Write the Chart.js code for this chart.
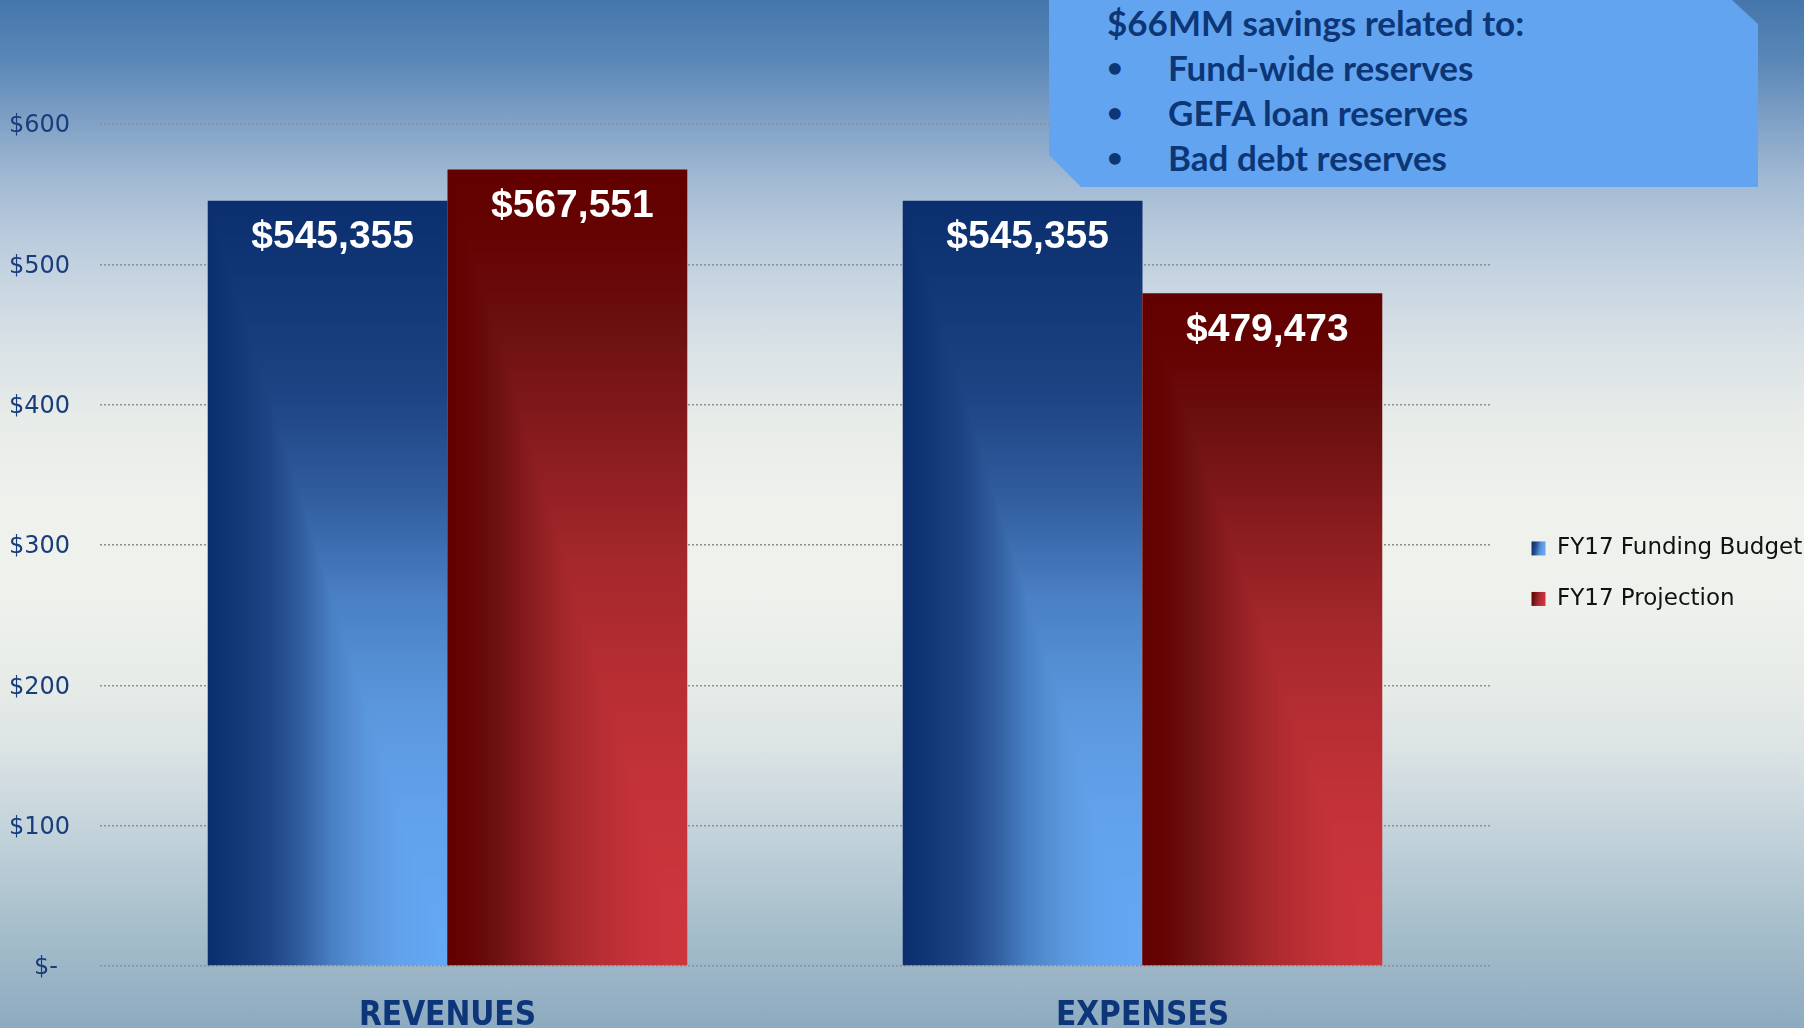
<!DOCTYPE html>
<html>
<head>
<meta charset="utf-8">
<script src="https://cdn.jsdelivr.net/npm/chart.js@4.4.1/dist/chart.umd.min.js"></script>
<style>
html, body { margin:0; padding:0; width:1804px; height:1028px; overflow:hidden; }
body {
  position:relative;
  background: linear-gradient(to bottom,
    #4576ab 0px, #5987b7 60px, #7c9ec4 115px, #9fb8d2 175px, #b7c9db 230px,
    #cad7e2 290px, #dae2e6 350px, #e8ece9 420px, #eef1ec 500px, #eef1ec 600px,
    #e6ebe8 690px, #dbe3e4 750px, #cbd8de 805px, #b9ccd6 865px, #a8c0cc 920px,
    #9bb5c6 975px, #8daac0 1028px);
}
#c { position:absolute; left:0; top:0; }
#callout {
  position:absolute; left:1049px; top:0; width:709px; height:187px; background:#63a4f1;
  clip-path: polygon(0 155px, 0 0, 683px 0, 709px 24px, 709px 187px, 32px 187px);
  z-index:2;
}
.ln { position:absolute; font-family: Lato, "Open Sans", sans-serif; font-weight:bold; font-size:35px;
  line-height:40px; color:#0c3675; white-space:nowrap; }
.ln.b { font-size:27px; }
</style>
</head>
<body>
<canvas id="c" width="1804" height="1028"></canvas>
<div id="callout"></div>
<script>
// ---- data ----
const categories = ['REVENUES', 'EXPENSES'];
const seriesNames = ['FY17 Funding Budget', 'FY17 Projection'];
const fundingBudget = [545355, 545355];   // $ thousands
const projection = [567551, 479473];      // $ thousands
const yTickLabels = ['$-\u2002', '$100', '$200', '$300', '$400', '$500', '$600'];
const calloutTitle = '$66MM savings related to:';
const calloutItems = ['Fund-wide reserves', 'GEFA loan reserves', 'Bad debt reserves'];

// ---- callout text ----
(function(){
  const box = document.getElementById('callout');
  const add = (txt, left, top, cls) => { const d = document.createElement('div'); d.className = 'ln' + (cls ? ' ' + cls : ''); d.textContent = txt; d.style.left = left+'px'; d.style.top = top+'px'; box.appendChild(d); };
  add(calloutTitle, 58, 2);
  calloutItems.forEach((t, i) => { add('\u2022', 58, 47 + i*45, 'b'); add(t, 119, 47 + i*45); });
})();

// ---- fills ----
const BLUE = [[0,[10,46,110]],[0.25,[29,67,131]],[0.38,[47,91,156]],[0.52,[74,128,196]],[0.66,[90,150,220]],[0.8,[98,162,236]],[1,[101,168,244]]];
const RED  = [[0,[98,0,0]],[0.1,[102,4,4]],[0.2,[108,16,16]],[0.35,[138,28,31]],[0.5,[165,40,44]],[0.65,[184,46,51]],[0.8,[198,51,58]],[1,[207,54,62]]];
function ramp(stops, t){
  t = Math.max(0, Math.min(1, t));
  for (let k=1; k<stops.length; k++){
    if (t <= stops[k][0]) {
      const a = stops[k-1], b = stops[k], f = (t-a[0])/(b[0]-a[0]);
      return [0,1,2].map(j => a[1][j] + (b[1][j]-a[1][j])*f);
    }
  }
  return stops[stops.length-1][1];
}
function paintRect(img, x, y, w, h, stops, mode){
  const W = img.width, H = img.height;
  const x0 = Math.floor(x), x1 = Math.ceil(x+w), y0 = Math.floor(y), y1 = Math.ceil(y+h);
  for (let py=y0; py<y1; py++) for (let px=x0; px<x1; px++){
    if (px<0 || py<0 || px>=W || py>=H) continue;
    const u = (px+0.5-x)/w, v = (py+0.5-y)/h;
    const t = mode === 'legend' ? u*0.85 + v*0.15 : Math.min(u, v);
    const c = ramp(stops, t);
    const o = (py*W+px)*4;
    img.data[o]=c[0]; img.data[o+1]=c[1]; img.data[o+2]=c[2]; img.data[o+3]=255;
  }
}
let barPattern = null;
function buildPattern(chart){
  const W = chart.width, H = chart.height;
  const off = document.createElement('canvas'); off.width = W; off.height = H;
  const octx = off.getContext('2d');
  const img = octx.createImageData(W, H);
  const lab = chart.options.plugins.legend.labels;
  const fs = lab.font.size;
  chart.data.datasets.forEach((ds, di) => {
    const stops = di === 0 ? BLUE : RED;
    chart.getDatasetMeta(di).data.forEach(el => {
      const p = el.getProps(['x','y','base','width'], true);
      paintRect(img, p.x - p.width/2, p.y, p.width, p.base - p.y, stops, 'bar');
    });
    const hb = chart.legend.legendHitBoxes[di];
    if (hb) paintRect(img, hb.left, hb.top + Math.max((fs - lab.boxHeight)/2, 0), lab.boxWidth, lab.boxHeight, stops, 'legend');
  });
  octx.putImageData(img, 0, 0);
  return chart.ctx.createPattern(off, 'no-repeat');
}

const fmtMoney = v => '$' + v.toLocaleString('en-US');

const valueLabels = {
  id: 'valueLabels',
  afterDatasetsDraw(chart){
    const ctx = chart.ctx;
    ctx.save();
    ctx.font = 'bold 39px "Liberation Sans", Arial, sans-serif';
    ctx.fillStyle = '#ffffff';
    ctx.textAlign = 'center';
    ctx.textBaseline = 'middle';
    chart.data.datasets.forEach((ds, di) => {
      chart.getDatasetMeta(di).data.forEach((el, i) => {
        ctx.fillText(fmtMoney(ds.data[i]), el.x + 5, el.y + 37);
      });
    });
    ctx.restore();
  }
};

const chart = new Chart(document.getElementById('c').getContext('2d'), {
  type: 'bar',
  data: {
    labels: categories,
    datasets: [
      { label: seriesNames[0], data: fundingBudget, backgroundColor: () => barPattern || '#2f5b9c', borderWidth: 0 },
      { label: seriesNames[1], data: projection, backgroundColor: () => barPattern || '#8a1c1f', borderWidth: 0 }
    ]
  },
  options: {
    responsive: false,
    animation: false,
    events: [],
    devicePixelRatio: 1,
    layout: { padding: { top: 124, right: 0, bottom: 0, left: 0 } },
    datasets: { bar: { categoryPercentage: 0.69, barPercentage: 1.0 } },
    scales: {
      x: {
        grid: { display: false },
        border: { display: false },
        ticks: {
          color: '#0c3679', padding: 23,
          font: { family: '"Liberation Sans Narrow", "DejaVu Sans Condensed", "Arial Narrow", sans-serif', weight: 'bold', size: 33 }
        },
        afterFit(s){ s.height = 62; }
      },
      y: {
        min: 0, max: 600000,
        grid: { color: '#8f8f8f', lineWidth: 1.5, drawTicks: false },
        border: { display: false, dash: [2, 2] },
        ticks: {
          stepSize: 100000, padding: 30, color: '#173d7d', labelOffset: 2,
          font: { family: '"DejaVu Sans", sans-serif', size: 24 },
          callback: (v, i) => yTickLabels[i]
        },
        afterFit(s){ s.width = 100; }
      },
      spacer: {
        type: 'linear', position: 'right', display: true,
        grid: { display: false }, border: { display: false }, ticks: { display: false },
        afterFit(s){ s.width = 14; }
      }
    },
    plugins: {
      legend: {
        position: 'right', align: 'center', fullSize: false, maxWidth: 300,
        title: { display: true, text: '', font: { size: 12 }, padding: { top: 43, bottom: 0 } },
        labels: {
          boxWidth: 14, boxHeight: 14, padding: 27.5, color: '#111111',
          font: { family: '"DejaVu Sans", sans-serif', size: 23 }
        }
      },
      tooltip: { enabled: false }
    }
  },
  plugins: [valueLabels]
});
barPattern = buildPattern(chart);
chart.update('none');
</script>
</body>
</html>
